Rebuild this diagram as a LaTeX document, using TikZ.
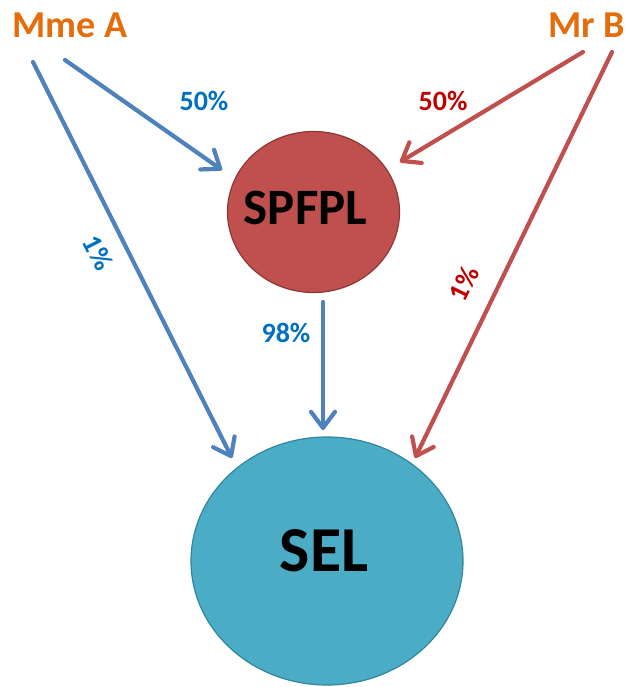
\documentclass[tikz,border=0pt]{standalone}
\usepackage{fontspec}
\setmainfont{Carlito}
\usetikzlibrary{arrows.meta,shapes.geometric}
\definecolor{lineblue}{HTML}{4F81BD}
\definecolor{linered}{HTML}{C0504D}
\definecolor{txtblue}{HTML}{0070C0}
\definecolor{txtred}{HTML}{C00000}
\definecolor{nameorange}{HTML}{E46C0A}
\definecolor{spfill}{HTML}{C0504D}
\definecolor{spedge}{HTML}{8C3836}
\definecolor{selfill}{HTML}{4BACC6}
\definecolor{seledge}{HTML}{31859C}
\tikzset{
  person/.style={text=nameorange, font=\bfseries\fontsize{38}{38}\selectfont, inner sep=0pt},
  flow/.style={line width=4.2pt, line cap=round, line join=round,
    -{Straight Barb[length=16pt, width=24pt, line cap=round, line join=round]}},
  blueflow/.style={flow, draw=lineblue},
  redflow/.style={flow, draw=linered},
  pct/.style={font=\bfseries\fontsize{28}{28}\selectfont, inner sep=0pt},
  bluepct/.style={pct, text=txtblue},
  redpct/.style={pct, text=txtred},
  org/.style={ellipse, draw, line width=1.2pt, inner sep=0pt}
}
\begin{document}
\begin{tikzpicture}[x=1pt, y=-1pt]
  \useasboundingbox (0,0) rectangle (626,687);

  % the two persons
  \node[person] (mmeA) at (70,25) {Mme A};
  \node[person] (mrB) at (587,25) {Mr B};

  % the two organisations
  \node[org, fill=spfill, draw=spedge, minimum width=172pt, minimum height=161pt] (spfpl) at (313.5,212) {};
  \node[font=\bfseries\fontsize{51}{51}\selectfont] (spfpltxt) at (spfpl.center) [xshift=-8pt, yshift=4pt] {SPFPL};
  \node[org, fill=selfill, draw=seledge, minimum width=272pt, minimum height=248pt] (sel) at (327,561) {};
  \node[font=\bfseries\fontsize{64}{64}\selectfont] (seltxt) at (sel.center) [xshift=-3pt, yshift=10pt] {SEL};

  % start and end points of the flows
  \coordinate (a1s) at (65,60);   \coordinate (a1e) at (222,170);
  \coordinate (a2s) at (33,62);   \coordinate (a2e) at (232,458);
  \coordinate (s1s) at (323,302); \coordinate (s1e) at (323,430);
  \coordinate (b1s) at (583,52);  \coordinate (b1e) at (400,162);
  \coordinate (b2s) at (612,52);  \coordinate (b2e) at (415,458);

  % flows
  \draw[blueflow] (a1s) -- (a1e);
  \draw[blueflow] (a2s) -- (a2e);
  \draw[blueflow] (s1s) -- (s1e);
  \draw[redflow] (b1s) -- (b1e);
  \draw[redflow] (b2s) -- (b2e);

  % shares
  \node[bluepct] (pa1) at (204,101) {50\%};
  \node[redpct] (pb1) at (443,101) {50\%};
  \node[bluepct] (ps1) at (286,333) {98\%};
  \node[bluepct, rotate=-63] (pa2) at (98,253) {1\%};
  \node[redpct, rotate=64] (pb2) at (464,284) {1\%};
\end{tikzpicture}
\end{document}
